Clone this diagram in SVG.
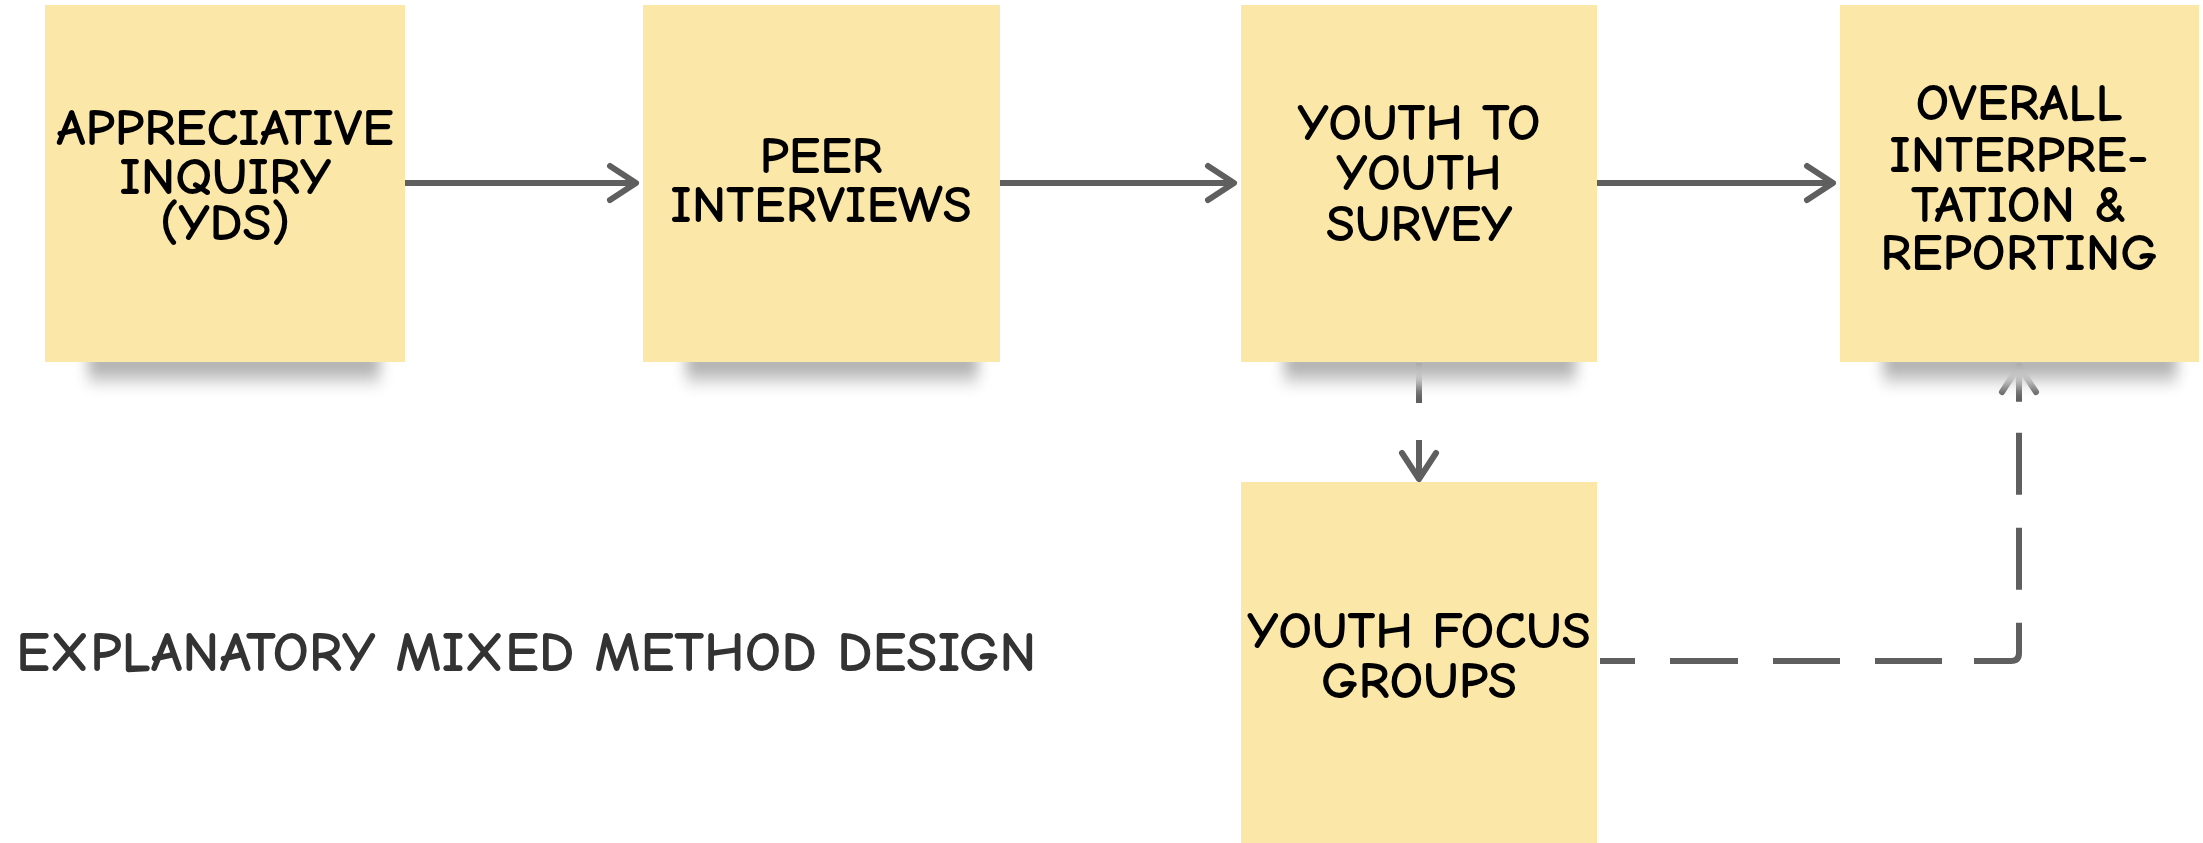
<svg xmlns="http://www.w3.org/2000/svg" width="2203" height="843" viewBox="0 0 2203 843">
<style>
.note{fill:#FBE8A8;}
.shadow{fill:url(#shg);filter:url(#blur);}
.lbl{font-family:"Comic Neue","Liberation Sans",Arial,sans-serif;font-weight:bold;font-size:53px;fill:#000;text-anchor:middle;}
.title{font-family:"Comic Neue","Liberation Sans",Arial,sans-serif;font-weight:bold;font-size:57px;fill:#333;}
.conn{fill:none;stroke:#5f5f5f;stroke-width:6;}
</style>
<defs>
<linearGradient id="shg" x1="0" y1="0" x2="0" y2="1">
<stop offset="0" stop-color="#9c9c9c"/>
<stop offset="0.5" stop-color="#b8b8b8"/>
<stop offset="1" stop-color="#ececec"/>
</linearGradient>
<filter id="blur" x="-30%" y="-150%" width="160%" height="400%"><feGaussianBlur stdDeviation="7"/></filter>
<marker id="arr" markerUnits="userSpaceOnUse" markerWidth="60" markerHeight="60" viewBox="-35 -30 60 60" refX="0" refY="0" orient="auto" overflow="visible">
<path d="M-26,-17 L0,0 L-26,17" fill="none" stroke="#5f5f5f" stroke-width="6" stroke-linecap="round" stroke-linejoin="round"/>
</marker>
</defs>
<rect width="2203" height="843" fill="#fff"/>

<g id="connectors">
<path class="conn" d="M405 183 H636" marker-end="url(#arr)"/>
<path class="conn" d="M1000 183 H1234" marker-end="url(#arr)"/>
<path class="conn" d="M1597 183 H1833" marker-end="url(#arr)"/>
<path class="conn" d="M1419 363 V479" stroke-dasharray="40 37 60" marker-end="url(#arr)"/>
<path class="conn" d="M1600 661 H2011 Q2019 661 2019 653 V366" stroke-dasharray="35 35 68 35 67 35 67 32 80 33 62 33 62 31 40" marker-end="url(#arr)"/>
</g>

<g id="node-appreciative">
<rect class="shadow" x="88" y="354" width="292" height="32"/>
<rect class="note" x="45" y="5" width="360" height="357"/>
<text class="lbl"><tspan x="225" y="145">APPRECIATIVE</tspan><tspan x="225" y="194">INQUIRY</tspan><tspan x="225" y="240">(YDS)</tspan></text>
</g>

<g id="node-peer">
<rect class="shadow" x="686" y="354" width="292" height="32"/>
<rect class="note" x="643" y="5" width="357" height="357"/>
<text class="lbl"><tspan x="821" y="173">PEER</tspan><tspan x="821" y="222">INTERVIEWS</tspan></text>
</g>

<g id="node-survey">
<rect class="shadow" x="1284" y="354" width="292" height="32"/>
<rect class="note" x="1241" y="5" width="356" height="357"/>
<text class="lbl"><tspan x="1419" y="140">YOUTH TO</tspan><tspan x="1419" y="190">YOUTH</tspan><tspan x="1419" y="241">SURVEY</tspan></text>
</g>

<g id="node-overall">
<rect class="shadow" x="1883" y="354" width="294" height="32"/>
<rect class="note" x="1840" y="5" width="359" height="357"/>
<text class="lbl"><tspan x="2019" y="120">OVERALL</tspan><tspan x="2019" y="172">INTERPRE-</tspan><tspan x="2019" y="222">TATION &amp;</tspan><tspan x="2019" y="270">REPORTING</tspan></text>
</g>

<g id="node-focus">
<rect class="note" x="1241" y="482" width="356" height="361"/>
<text class="lbl"><tspan x="1419" y="648">YOUTH FOCUS</tspan><tspan x="1419" y="698">GROUPS</tspan></text>
</g>

<g id="title">
<text class="title" x="16" y="671">EXPLANATORY MIXED METHOD DESIGN</text>
</g>
</svg>
